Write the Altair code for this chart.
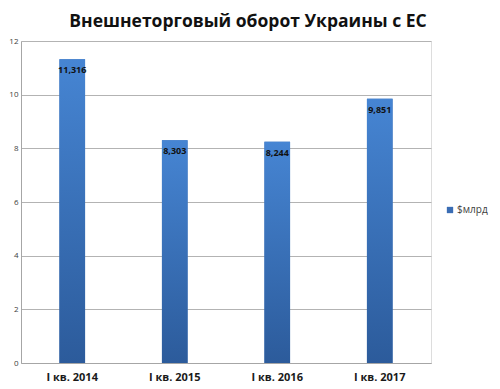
import altair as alt
import pandas as pd

categories = ["I кв. 2014", "I кв. 2015", "I кв. 2016", "I кв. 2017"]
values = [11.316, 8.303, 8.244, 9.851]
labels = ["11,316", "8,303", "8,244", "9,851"]
series = "$млрд"

df = pd.DataFrame({"cat": categories, "val": values, "lab": labels, "series": [series] * 4})

FONT = "Open Sans"

x = alt.X("cat:N", sort=categories, title=None,
          scale=alt.Scale(paddingInner=0.75, paddingOuter=0.375),
          axis=alt.Axis(labelAngle=0, labelFontSize=11, labelFontWeight="bold", labelColor="#1a1a1a",
                        labelFont=FONT, ticks=False, domainColor="#a6a6a6", labelPadding=8))
y = alt.Y("val:Q", title=None,
          scale=alt.Scale(domain=[0, 12], nice=False),
          axis=alt.Axis(values=[0, 2, 4, 6, 8, 10, 12], labelFontSize=8, labelColor="#404040",
                        labelFont=FONT, ticks=False, domainColor="#a6a6a6", gridColor="#b3b3b3",
                        labelPadding=3))

base = alt.Chart(df)

legend_layer = base.mark_bar().encode(
    x=x, y=y,
    color=alt.Color("series:N", title=None,
                    scale=alt.Scale(range=["#3a6db4"]),
                    legend=alt.Legend(orient="none", legendX=424, legendY=164, symbolType="square",
                                      symbolSize=40, labelFontSize=10, labelFont=FONT,
                                      labelColor="#404040", symbolStrokeWidth=0, labelOffset=2)),
)

bars = base.mark_bar(
    color=alt.Gradient(gradient="linear", x1=0, y1=0, x2=0, y2=1,
                       stops=[alt.GradientStop(color="#4685d3", offset=0),
                              alt.GradientStop(color="#2c5b9b", offset=1)])
).encode(x=x, y=y)

text = base.mark_text(baseline="middle", dy=11, fontSize=9, fontWeight="bold", font=FONT,
                      color="#111111").encode(
    x=alt.X("cat:N", sort=categories), y="val:Q", text="lab:N")

chart = alt.layer(legend_layer, bars, text).properties(
    width=410, height=322,
    padding={"left": 13, "top": 33, "right": 61, "bottom": 25},
    autosize=alt.AutoSizeParams(type="none"),
    title=alt.Title("Внешнеторговый оборот Украины с ЕС", fontSize=17.5, fontWeight="bold",
                    font=FONT, color="#111111", anchor="middle", dx=22, offset=7),
).configure_view(stroke=None).configure(background="white")

chart.save("out.html", embed_options={"renderer": "svg", "actions": False})
